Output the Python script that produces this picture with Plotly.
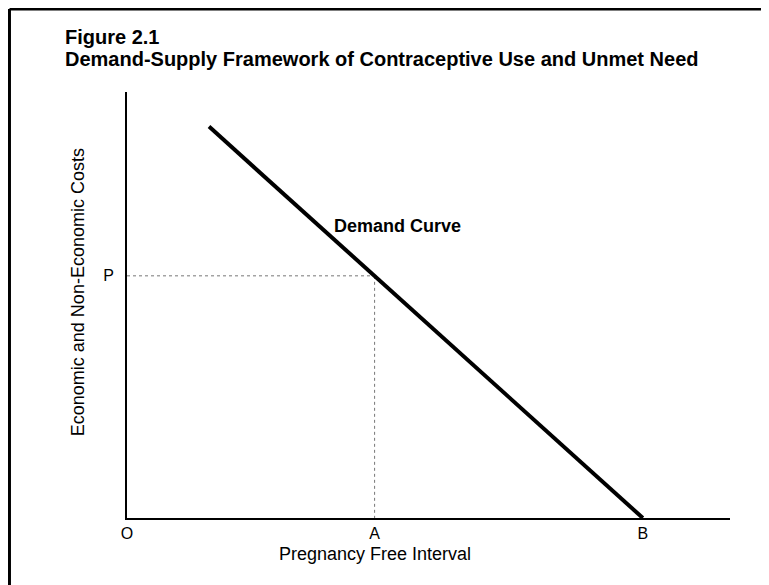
import plotly.graph_objects as go

# demand curve end points (arbitrary units on both axes)
demand_x = [1.59, 10.0]
demand_y = [7.58, 0.0]
# the price P and the interval A that it buys
point_a = 4.8
point_p = 4.69
point_b = 10.0
x_ticks = [0.0, point_a, point_b]
x_tick_labels = ["O", "A", "B"]
y_ticks = [point_p]
y_tick_labels = ["P"]

font = "Liberation Sans, Arial, sans-serif"

fig = go.Figure()
fig.add_trace(go.Scatter(x=[0, point_a], y=[point_p, point_p], mode="lines", line=dict(color="#777777", width=1, dash="dot"), hoverinfo="skip", showlegend=False))
fig.add_trace(go.Scatter(x=[point_a, point_a], y=[point_p, 0], mode="lines", line=dict(color="#777777", width=1, dash="dot"), hoverinfo="skip", showlegend=False))
fig.add_trace(go.Scatter(x=demand_x, y=demand_y, mode="lines", line=dict(color="black", width=4), name="Demand Curve", showlegend=False))

fig.update_layout(
    width=769, height=585,
    paper_bgcolor="white", plot_bgcolor="white",
    margin=dict(l=119, r=47, t=84, b=75),
    font=dict(family=font, size=18, color="black"),
    xaxis=dict(range=[0, 11.69], showgrid=False, zeroline=False, showline=True, linecolor="black", linewidth=2, tickvals=x_ticks, ticktext=x_tick_labels, ticks="", tickfont=dict(size=16), fixedrange=True),
    yaxis=dict(range=[0, 8.25], showgrid=False, zeroline=False, showline=True, linecolor="black", linewidth=2, tickvals=y_ticks, ticktext=y_tick_labels, ticks="", tickfont=dict(size=16), ticklabelstandoff=8, fixedrange=True),
    annotations=[
        dict(text="<b>Figure 2.1</b>", x=-0.1061, y=1.1291, xref="paper", yref="paper", xanchor="left", yanchor="middle", showarrow=False, font=dict(size=20)),
        dict(text="<b>Demand-Supply Framework of Contraceptive Use and Unmet Need</b>", x=-0.1061, y=1.0786, xref="paper", yref="paper", xanchor="left", yanchor="middle", showarrow=False, font=dict(size=20)),
        dict(text="<b>Demand Curve</b>", x=3.98, y=5.66, xref="x", yref="y", xanchor="left", yanchor="middle", showarrow=False, font=dict(size=18)),
        dict(text="Pregnancy Free Interval", x=point_a, y=0, xref="x", yref="paper", xanchor="center", yanchor="middle", yshift=-36, showarrow=False, font=dict(size=18)),
        dict(text="Economic and Non-Economic Costs", x=-0.0813, y=0.53, xref="paper", yref="paper", textangle=-90, xanchor="center", yanchor="middle", showarrow=False, font=dict(size=18)),
    ],
    shapes=[
        dict(type="line", xref="paper", yref="paper", x0=-0.1949, x1=-0.1949, y0=-0.3, y1=1.1948, line=dict(color="black", width=3)),
        dict(type="line", xref="paper", yref="paper", x0=-0.1949, x1=1.2, y0=1.1948, y1=1.1948, line=dict(color="black", width=3)),
    ],
)

fig.write_html("out.html")
